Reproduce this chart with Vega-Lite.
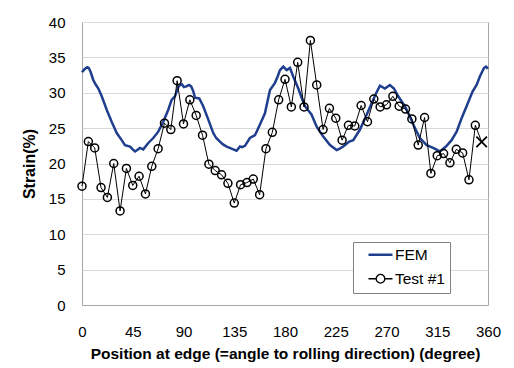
{
  "$schema": "https://vega.github.io/schema/vega-lite/v6.json",
  "width": 406,
  "height": 283,
  "autosize": {"type": "none"},
  "padding": {"left": 82, "top": 22, "right": 26, "bottom": 63},
  "background": "white",
  "config": {
    "font": "Liberation Sans",
    "view": {"stroke": "#a6a6a6", "strokeWidth": 1},
    "axis": {"labelFont": "Liberation Sans", "titleFont": "Liberation Sans", "labelColor": "#000", "titleColor": "#000"}
  },
  "datasets": {
    "fem": [
      {"series":"FEM","deg":0,"strain":32.9},{"series":"FEM","deg":2,"strain":33.3},{"series":"FEM","deg":4.5,"strain":33.6},{"series":"FEM","deg":6,"strain":33.5},{"series":"FEM","deg":7.5,"strain":33.0},{"series":"FEM","deg":10,"strain":31.8},{"series":"FEM","deg":12,"strain":31.2},{"series":"FEM","deg":14.5,"strain":30.6},{"series":"FEM","deg":17.5,"strain":29.5},{"series":"FEM","deg":21.9,"strain":27.6},{"series":"FEM","deg":26.3,"strain":25.9},{"series":"FEM","deg":30.8,"strain":24.3},{"series":"FEM","deg":35.2,"strain":23.3},{"series":"FEM","deg":38.1,"strain":22.6},{"series":"FEM","deg":42.6,"strain":22.4},{"series":"FEM","deg":45,"strain":22.0},{"series":"FEM","deg":47,"strain":21.7},{"series":"FEM","deg":49,"strain":21.9},{"series":"FEM","deg":51.4,"strain":22.2},{"series":"FEM","deg":54.3,"strain":22.0},{"series":"FEM","deg":58.8,"strain":22.9},{"series":"FEM","deg":63.2,"strain":23.6},{"series":"FEM","deg":67.6,"strain":24.5},{"series":"FEM","deg":72.1,"strain":25.9},{"series":"FEM","deg":76.5,"strain":27.6},{"series":"FEM","deg":79.5,"strain":29.0},{"series":"FEM","deg":82.4,"strain":29.5},{"series":"FEM","deg":85.4,"strain":30.8},{"series":"FEM","deg":86.9,"strain":31.1},{"series":"FEM","deg":88.5,"strain":31.2},{"series":"FEM","deg":90.4,"strain":30.8},{"series":"FEM","deg":92.5,"strain":30.9},{"series":"FEM","deg":94.9,"strain":31.1},{"series":"FEM","deg":96.8,"strain":30.9},{"series":"FEM","deg":98.7,"strain":30.2},{"series":"FEM","deg":100.2,"strain":29.3},{"series":"FEM","deg":104,"strain":29.2},{"series":"FEM","deg":107.5,"strain":28.1},{"series":"FEM","deg":112,"strain":26.2},{"series":"FEM","deg":116.4,"strain":24.3},{"series":"FEM","deg":119,"strain":23.6},{"series":"FEM","deg":122.3,"strain":23.1},{"series":"FEM","deg":125,"strain":22.7},{"series":"FEM","deg":128.3,"strain":22.4},{"series":"FEM","deg":131,"strain":22.2},{"series":"FEM","deg":134.1,"strain":22.0},{"series":"FEM","deg":137.1,"strain":21.8},{"series":"FEM","deg":140.1,"strain":22.4},{"series":"FEM","deg":142,"strain":22.3},{"series":"FEM","deg":144.5,"strain":22.5},{"series":"FEM","deg":148.9,"strain":23.6},{"series":"FEM","deg":153.4,"strain":24.0},{"series":"FEM","deg":157.8,"strain":25.5},{"series":"FEM","deg":162.2,"strain":27.1},{"series":"FEM","deg":164.5,"strain":28.8},{"series":"FEM","deg":166.7,"strain":30.4},{"series":"FEM","deg":171.1,"strain":31.4},{"series":"FEM","deg":173.5,"strain":32.3},{"series":"FEM","deg":175.5,"strain":33.2},{"series":"FEM","deg":178.5,"strain":33.7},{"series":"FEM","deg":181.5,"strain":33.2},{"series":"FEM","deg":184.4,"strain":33.5},{"series":"FEM","deg":187.3,"strain":32.3},{"series":"FEM","deg":191.8,"strain":30.6},{"series":"FEM","deg":194.5,"strain":29.4},{"series":"FEM","deg":197.7,"strain":28.1},{"series":"FEM","deg":203.6,"strain":26.9},{"series":"FEM","deg":208.1,"strain":25.2},{"series":"FEM","deg":213.9,"strain":23.8},{"series":"FEM","deg":219.9,"strain":22.6},{"series":"FEM","deg":225.8,"strain":21.9},{"series":"FEM","deg":228.5,"strain":22.1},{"series":"FEM","deg":231.6,"strain":22.4},{"series":"FEM","deg":237,"strain":23.1},{"series":"FEM","deg":240.5,"strain":23.3},{"series":"FEM","deg":246.5,"strain":24.8},{"series":"FEM","deg":252.4,"strain":26.9},{"series":"FEM","deg":258.2,"strain":29.0},{"series":"FEM","deg":261,"strain":30.0},{"series":"FEM","deg":264.2,"strain":31.0},{"series":"FEM","deg":268.6,"strain":30.6},{"series":"FEM","deg":273,"strain":31.1},{"series":"FEM","deg":276.6,"strain":30.6},{"series":"FEM","deg":280.4,"strain":29.5},{"series":"FEM","deg":286.3,"strain":28.1},{"series":"FEM","deg":290.8,"strain":26.6},{"series":"FEM","deg":295.2,"strain":25.0},{"series":"FEM","deg":299.6,"strain":23.6},{"series":"FEM","deg":305.6,"strain":22.6},{"series":"FEM","deg":311.4,"strain":22.2},{"series":"FEM","deg":317.4,"strain":21.7},{"series":"FEM","deg":322.7,"strain":22.4},{"series":"FEM","deg":327.7,"strain":23.3},{"series":"FEM","deg":332.2,"strain":24.5},{"series":"FEM","deg":336.6,"strain":26.4},{"series":"FEM","deg":341,"strain":28.1},{"series":"FEM","deg":346.4,"strain":30.2},{"series":"FEM","deg":349.9,"strain":31.1},{"series":"FEM","deg":352.8,"strain":32.3},{"series":"FEM","deg":356.4,"strain":33.5},{"series":"FEM","deg":358.2,"strain":33.7},{"series":"FEM","deg":360,"strain":33.4}
    ],
    "test": [
      {"series":"Test #1","marker":"o","deg":0,"strain":16.8},{"series":"Test #1","marker":"o","deg":5.625,"strain":23.1},{"series":"Test #1","marker":"o","deg":11.25,"strain":22.2},{"series":"Test #1","marker":"o","deg":16.875,"strain":16.6},{"series":"Test #1","marker":"o","deg":22.5,"strain":15.2},{"series":"Test #1","marker":"o","deg":28.125,"strain":20.0},{"series":"Test #1","marker":"o","deg":33.75,"strain":13.3},{"series":"Test #1","marker":"o","deg":39.375,"strain":19.3},{"series":"Test #1","marker":"o","deg":45,"strain":16.9},{"series":"Test #1","marker":"o","deg":50.625,"strain":18.2},{"series":"Test #1","marker":"o","deg":56.25,"strain":15.7},{"series":"Test #1","marker":"o","deg":61.875,"strain":19.6},{"series":"Test #1","marker":"o","deg":67.5,"strain":22.1},{"series":"Test #1","marker":"o","deg":73.125,"strain":25.7},{"series":"Test #1","marker":"o","deg":78.75,"strain":24.8},{"series":"Test #1","marker":"o","deg":84.375,"strain":31.7},{"series":"Test #1","marker":"o","deg":90,"strain":25.6},{"series":"Test #1","marker":"o","deg":95.625,"strain":29.0},{"series":"Test #1","marker":"o","deg":101.25,"strain":26.8},{"series":"Test #1","marker":"o","deg":106.875,"strain":24.0},{"series":"Test #1","marker":"o","deg":112.5,"strain":19.9},{"series":"Test #1","marker":"o","deg":118.125,"strain":19.0},{"series":"Test #1","marker":"o","deg":123.75,"strain":18.4},{"series":"Test #1","marker":"o","deg":129.375,"strain":17.2},{"series":"Test #1","marker":"o","deg":135,"strain":14.4},{"series":"Test #1","marker":"o","deg":140.625,"strain":17.0},{"series":"Test #1","marker":"o","deg":146.25,"strain":17.3},{"series":"Test #1","marker":"o","deg":151.875,"strain":17.8},{"series":"Test #1","marker":"o","deg":157.5,"strain":15.6},{"series":"Test #1","marker":"o","deg":163.125,"strain":22.1},{"series":"Test #1","marker":"o","deg":168.75,"strain":24.4},{"series":"Test #1","marker":"o","deg":174.375,"strain":29.0},{"series":"Test #1","marker":"o","deg":180,"strain":31.9},{"series":"Test #1","marker":"o","deg":185.625,"strain":28.0},{"series":"Test #1","marker":"o","deg":191.25,"strain":34.3},{"series":"Test #1","marker":"o","deg":196.875,"strain":28.0},{"series":"Test #1","marker":"o","deg":202.5,"strain":37.4},{"series":"Test #1","marker":"o","deg":208.125,"strain":31.1},{"series":"Test #1","marker":"o","deg":213.75,"strain":24.8},{"series":"Test #1","marker":"o","deg":219.375,"strain":27.8},{"series":"Test #1","marker":"o","deg":225,"strain":26.4},{"series":"Test #1","marker":"o","deg":230.625,"strain":23.3},{"series":"Test #1","marker":"o","deg":236.25,"strain":25.4},{"series":"Test #1","marker":"o","deg":241.875,"strain":25.3},{"series":"Test #1","marker":"o","deg":247.5,"strain":28.2},{"series":"Test #1","marker":"o","deg":253.125,"strain":25.9},{"series":"Test #1","marker":"o","deg":258.75,"strain":29.1},{"series":"Test #1","marker":"o","deg":264.375,"strain":28.0},{"series":"Test #1","marker":"o","deg":270,"strain":28.3},{"series":"Test #1","marker":"o","deg":275.625,"strain":29.5},{"series":"Test #1","marker":"o","deg":281.25,"strain":28.1},{"series":"Test #1","marker":"o","deg":286.875,"strain":27.7},{"series":"Test #1","marker":"o","deg":292.5,"strain":26.3},{"series":"Test #1","marker":"o","deg":298.125,"strain":22.6},{"series":"Test #1","marker":"o","deg":303.75,"strain":26.5},{"series":"Test #1","marker":"o","deg":309.375,"strain":18.6},{"series":"Test #1","marker":"o","deg":315,"strain":21.1},{"series":"Test #1","marker":"o","deg":320.625,"strain":21.4},{"series":"Test #1","marker":"o","deg":326.25,"strain":20.1},{"series":"Test #1","marker":"o","deg":331.875,"strain":22.0},{"series":"Test #1","marker":"o","deg":337.5,"strain":21.5},{"series":"Test #1","marker":"o","deg":343.125,"strain":17.7},{"series":"Test #1","marker":"o","deg":348.75,"strain":25.4},{"series":"Test #1","marker":"x","deg":354.375,"strain":23.05}
    ]
  },
  "encoding": {
    "x": {
      "field": "deg", "type": "quantitative",
      "scale": {"domain": [0, 360], "nice": false, "zero": false},
      "axis": {
        "values": [0, 45, 90, 135, 180, 225, 270, 315, 360],
        "title": "Position at edge (=angle to rolling direction) (degree)",
        "grid": false, "ticks": false, "tickSize": 0, "labelFlush": false,
        "domainColor": "#a6a6a6",
        "labelFontSize": 15, "labelPadding": 19,
        "titleFontSize": 15.5, "titleFontWeight": "bold", "titlePadding": 7
      }
    },
    "y": {
      "field": "strain", "type": "quantitative",
      "scale": {"domain": [0, 40], "nice": false},
      "axis": {
        "values": [0, 5, 10, 15, 20, 25, 30, 35, 40],
        "title": "Strain(%)",
        "grid": true, "gridColor": "#d9d9d9", "gridWidth": 1,
        "ticks": false, "tickSize": 0, "domain": false,
        "labelFontSize": 15, "labelPadding": 17,
        "titleFontSize": 16, "titleFontWeight": "bold", "titlePadding": 11
      }
    }
  },
  "layer": [
    {
      "data": {"name": "fem"},
      "mark": {"type": "line", "strokeWidth": 2.5, "interpolate": "linear"},
      "encoding": {
        "color": {
          "field": "series", "type": "nominal",
          "scale": {"domain": ["FEM", "Test #1"], "range": ["#1f3e8e", "#000000"]},
          "legend": {
            "title": null,
            "orient": "none", "legendX": 271, "legendY": 220,
            "fillColor": "white", "strokeColor": "#808080",
            "padding": 5, "rowPadding": 7,
            "labelFont": "Liberation Sans", "labelFontSize": 15.5, "labelColor": "#000",
            "labelExpr": "datum.label + '\u00a0\u00a0\u00a0\u00a0\u00a0'",
            "symbolSize": 576, "symbolType": "stroke",
            "encode": {
              "symbols": {
                "update": {
                  "x": {"value": 22.5},
                  "shape": {"signal": "datum.value === 'FEM' ? 'M-1,0L1,0' : 'M-1,0L-0.36,0M0.36,0L1,0M-0.36,0A0.36,0.36,0,1,1,0.36,0A0.36,0.36,0,1,1,-0.36,0'"},
                  "strokeWidth": {"signal": "datum.value === 'FEM' ? 2.5 : 1.3"},
                  "fill": {"value": "transparent"}
                }
              },
              "labels": {
                "update": {"x": {"value": 37}}
              }
            }
          }
        }
      }
    },
    {
      "data": {"name": "test"},
      "mark": {"type": "line", "strokeWidth": 1, "interpolate": "linear"},
      "encoding": {"color": {"field": "series", "type": "nominal"}}
    },
    {
      "data": {"name": "test"},
      "transform": [{"filter": "datum.marker === 'o'"}],
      "mark": {"type": "point", "shape": "circle", "size": 64, "filled": false, "stroke": "#000", "strokeWidth": 1.5, "opacity": 1},
      "encoding": {}
    },
    {
      "data": {"name": "test"},
      "transform": [{"filter": "datum.marker === 'x'"}],
      "mark": {"type": "point", "shape": "M-1,-1L1,1M-1,1L1,-1", "size": 110, "filled": false, "stroke": "#000", "strokeWidth": 1.8, "opacity": 1},
      "encoding": {}
    }
  ]
}
